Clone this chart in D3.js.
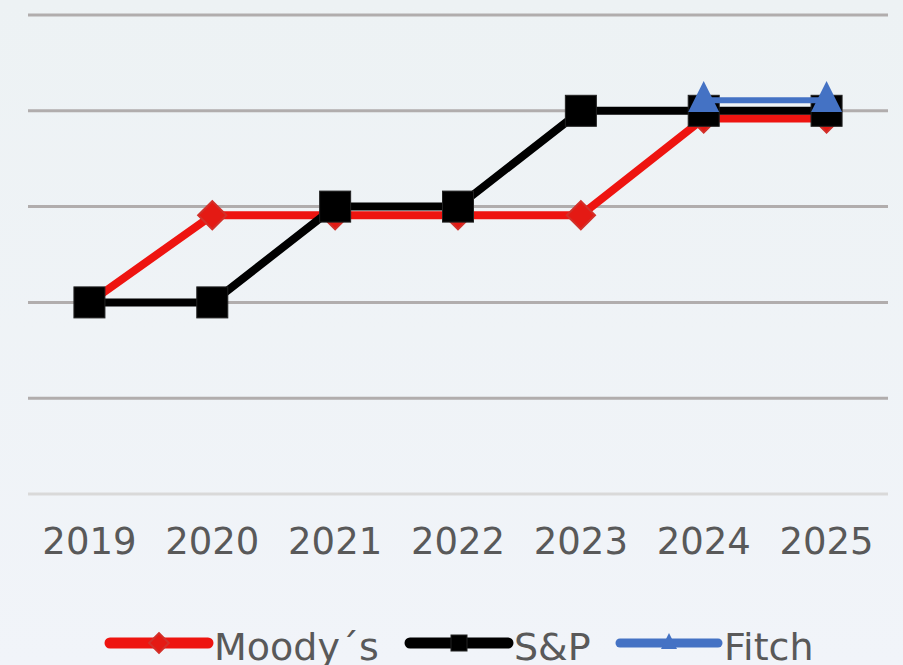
<!DOCTYPE html>
<meta charset="utf-8">
<head>
  <script src="https://d3js.org/d3.v7.min.js"></script>
  <style>
    body { margin: 0; background: #eef2f5; }
    text { font-family: "DejaVu Sans", Verdana, sans-serif; fill: #595959; }
  </style>
</head>
<body>
<div id="chart"></div>
<script>

var years = ["2019", "2020", "2021", "2022", "2023", "2024", "2025"];
var moodys = [2, 2.91, 2.91, 2.91, 2.91, 3.92, 3.92];
var sp = [2, 2, 3, 3, 4, 4, 4];
var fitch = [null, null, null, null, null, 4.11, 4.11];
var yTicks = [0, 1, 2, 3, 4, 5];

var W = 903, H = 665;
var margin = {top: 15, right: 15, bottom: 171, left: 28},
    width = W - margin.left - margin.right,
    height = H - margin.top - margin.bottom;

var svg = d3.select("#chart")
  .append("svg")
    .attr("width", W)
    .attr("height", H);

var grad = svg.append("defs").append("linearGradient")
    .attr("id", "bg").attr("x1", 0).attr("y1", 0).attr("x2", 0).attr("y2", 1);
grad.append("stop").attr("offset", "0%").attr("stop-color", "#edf2f4");
grad.append("stop").attr("offset", "100%").attr("stop-color", "#f1f4f9");
svg.append("rect").attr("width", W).attr("height", H).attr("fill", "url(#bg)");

var g = svg.append("g")
    .attr("transform", "translate(" + margin.left + "," + margin.top + ")");

var x = d3.scaleBand().domain(years).range([0, width]);
var y = d3.scaleLinear().domain([0, 5]).range([height, 0]);

// gridlines
g.selectAll(".grid")
  .data(yTicks)
  .enter().append("line")
    .attr("x1", 0).attr("x2", width)
    .attr("y1", function(d) { return y(d); })
    .attr("y2", function(d) { return y(d); })
    .attr("stroke", function(d) { return d === 0 ? "#d9d9d9" : "#b1adad"; })
    .attr("stroke-width", 3);

// x axis labels
var xAxis = g.append("g")
  .attr("transform", "translate(0," + height + ")")
  .call(d3.axisBottom(x).tickSize(0).tickPadding(34));
xAxis.select(".domain").remove();
xAxis.selectAll("text")
  .attr("font-family", "DejaVu Sans, Verdana, sans-serif")
  .style("font-size", "37px")
  .attr("fill", "#595959");

var cx = function(i) { return x(years[i]) + x.bandwidth() / 2; };

var line = d3.line()
  .defined(function(d) { return d != null; })
  .x(function(d, i) { return cx(i); })
  .y(function(d) { return y(d); });

function diamond(sel, s) {
  sel.append("rect")
    .attr("x", -s / 2).attr("y", -s / 2)
    .attr("width", s).attr("height", s)
    .attr("transform", "rotate(45)")
    .attr("fill", "#e41a14")
    .attr("stroke", "#d2302a")
    .attr("stroke-width", 2);
}
function square(sel, s) {
  sel.append("rect")
    .attr("x", -s / 2).attr("y", -s / 2)
    .attr("width", s).attr("height", s)
    .attr("fill", "#000")
    .attr("stroke", "#222")
    .attr("stroke-width", 1);
}
function triangle(sel, s) {
  sel.append("path")
    .attr("d", "M0," + (-s * 0.62) + "L" + (s / 2) + "," + (s * 0.38) + "L" + (-s / 2) + "," + (s * 0.38) + "Z")
    .attr("fill", "#4472c4");
}

var series = [
  {name: "Moody´s", values: moodys, color: "#ee1410", width: 8, marker: diamond, size: 20},
  {name: "S&P", values: sp, color: "#000", width: 8, marker: square, size: 31},
  {name: "Fitch", values: fitch, color: "#4472c4", width: 6, marker: triangle, size: 31}
];

series.forEach(function(s) {
  g.append("path")
    .datum(s.values)
    .attr("fill", "none")
    .attr("stroke", s.color)
    .attr("stroke-width", s.width)
    .attr("d", line);
  g.selectAll(null)
    .data(s.values.map(function(v, i) { return {v: v, i: i}; }).filter(function(d) { return d.v != null; }))
    .enter().append("g")
      .attr("transform", function(d) { return "translate(" + cx(d.i) + "," + y(d.v) + ")"; })
      .each(function() { s.marker(d3.select(this), s.size); });
});

// legend
var legendX = [110, 410, 620];
var legend = svg.append("g").attr("transform", "translate(0,643)");
series.forEach(function(s, k) {
  var lg = legend.append("g").attr("transform", "translate(" + legendX[k] + ",0)");
  lg.append("line")
    .attr("x1", 0).attr("x2", 98)
    .attr("stroke", s.color)
    .attr("stroke-width", s.width + 3)
    .attr("stroke-linecap", "round");
  var m = lg.append("g").attr("transform", "translate(49,0)");
  s.marker(m, s === series[0] ? 14 : 16);
  lg.append("text")
    .attr("x", 104)
    .attr("y", 17)
    .style("font-size", "38px")
    .text(s.name);
});

</script>
</body>
